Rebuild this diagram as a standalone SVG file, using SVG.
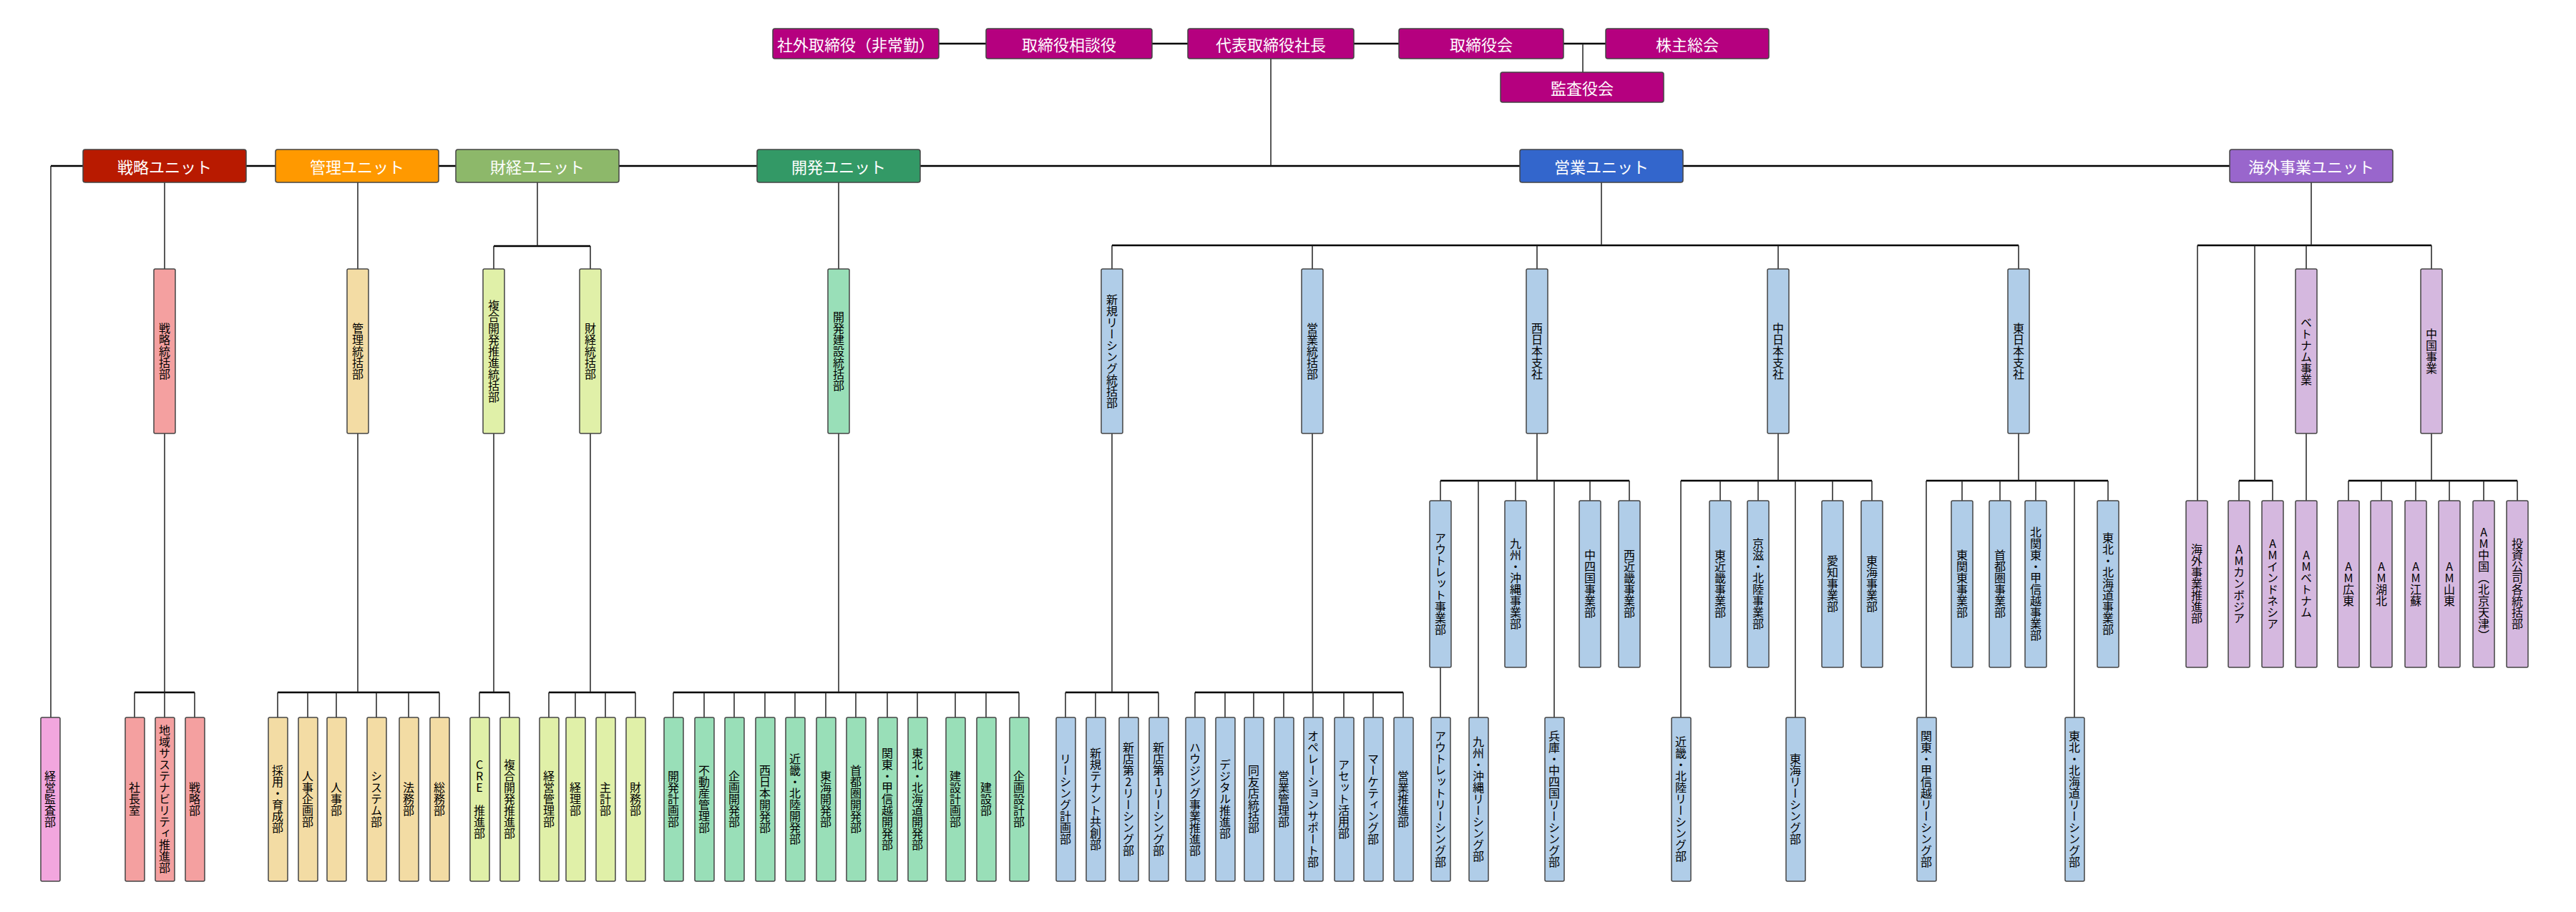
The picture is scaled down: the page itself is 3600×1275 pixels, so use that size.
<svg xmlns="http://www.w3.org/2000/svg" width="3600" height="1275" viewBox="0 0 3600 1275">
<style>
text{font-family:"Noto Sans CJK JP","Noto Sans",sans-serif}
.b{stroke:#444;stroke-width:1.5}
.top{fill:#b5007f}.u1{fill:#b81a00}.u2{fill:#ff9900}.u3{fill:#8db86a}.u4{fill:#339966}.u5{fill:#3366cc}.u6{fill:#9966cc}
.cA{fill:#f4a0a0}.cM{fill:#f2a6de}.cB{fill:#f3dca4}.cC{fill:#e0f0a8}.cD{fill:#99dfb8}.cE{fill:#b0cde8}.cF{fill:#d5b8df}
.ht{fill:#fff;font-size:22px;text-anchor:middle;dominant-baseline:central}
.vt{fill:#000;font-size:16px;writing-mode:vertical-rl;text-orientation:upright;text-anchor:middle;dominant-baseline:central}
.h{fill:none;stroke:#000;stroke-width:2.5}
.v{fill:none;stroke:#222;stroke-width:1.5}
</style>
<g id="connectors">
<path class="h" d="M1312 61H2244M71 232H3116M690 344H825M1554 343H2821M3071 343H3398M3129 672H3176M188 968H272M388 968H614M670 968H712M767 968H888M941 968H1424M1489 968H1619M1670 968H1961M2013 672H2277M2349 672H2616M2692 672H2946M3282 672H3518"/>
<path class="v" d="M2212 61V101M1776 82V232M71 232V1003M230 255V376M500 255V376M751 255V344M690 344V376M825 344V376M1172 255V376M2238 255V343M1554 343V376M1834 343V376M2148 343V376M2485 343V376M2821 343V376M3230 255V343M3071 343V700M3151 343V672M3129 672V700M3176 672V700M3223 343V376M3398 343V376
M230 606V1003M188 968V1003M272 968V1003
M500 606V968M388 968V1003M430 968V1003M470 968V1003M526 968V1003M571 968V1003M614 968V1003
M690 606V968M670 968V1003M712 968V1003
M825 606V968M767 968V1003M804 968V1003M846 968V1003M888 968V1003
M1172 606V968M941 968V1003M984 968V1003M1026 968V1003M1069 968V1003M1111 968V1003M1154 968V1003M1196 968V1003M1240 968V1003M1282 968V1003M1335 968V1003M1378 968V1003M1424 968V1003
M1554 606V968M1489 968V1003M1531 968V1003M1577 968V1003M1619 968V1003
M1834 606V968M1670 968V1003M1712 968V1003M1752 968V1003M1794 968V1003M1835 968V1003M1878 968V1003M1919 968V1003M1961 968V1003
M2148 606V672M2013 672V700M2118 672V700M2222 672V700M2277 672V700M2066 672V1003M2172 672V1003M2013 933V1003
M2485 606V672M2349 672V1003M2404 672V700M2457 672V700M2509 672V1003M2561 672V700M2616 672V700
M2821 606V672M2692 672V1003M2742 672V700M2795 672V700M2845 672V700M2899 672V1003M2946 672V700
M3223 606V700M3398 606V672M3282 672V700M3328 672V700M3376 672V700M3423 672V700M3471 672V700M3518 672V700"/>
</g>
<g id="n_outside"><rect class="top b" x="1080" y="40" width="232" height="42" rx="3"/><text class="ht" x="1196" y="61" font-size="20">社外取締役（非常勤）</text></g>
<g id="n_advisor"><rect class="top b" x="1378" y="40" width="232" height="42" rx="3"/><text class="ht" x="1494" y="61">取締役相談役</text></g>
<g id="n_ceo"><rect class="top b" x="1660" y="40" width="232" height="42" rx="3"/><text class="ht" x="1776" y="61">代表取締役社長</text></g>
<g id="n_board"><rect class="top b" x="1955" y="40" width="230" height="42" rx="3"/><text class="ht" x="2070" y="61">取締役会</text></g>
<g id="n_share"><rect class="top b" x="2244" y="40" width="228" height="42" rx="3"/><text class="ht" x="2358" y="61">株主総会</text></g>
<g id="n_audit"><rect class="top b" x="2097" y="101" width="228" height="42" rx="3"/><text class="ht" x="2211" y="122">監査役会</text></g>
<g id="u_strategy"><rect class="u1 b" x="116" y="209" width="228" height="46" rx="3"/><text class="ht" x="230" y="232">戦略ユニット</text></g>
<g id="u_admin"><rect class="u2 b" x="385" y="209" width="228" height="46" rx="3"/><text class="ht" x="499" y="232">管理ユニット</text></g>
<g id="u_finance"><rect class="u3 b" x="637" y="209" width="228" height="46" rx="3"/><text class="ht" x="751" y="232">財経ユニット</text></g>
<g id="u_dev"><rect class="u4 b" x="1058" y="209" width="228" height="46" rx="3"/><text class="ht" x="1172" y="232">開発ユニット</text></g>
<g id="u_sales"><rect class="u5 b" x="2124" y="209" width="228" height="46" rx="3"/><text class="ht" x="2238" y="232">営業ユニット</text></g>
<g id="u_overseas"><rect class="u6 b" x="3116" y="209" width="228" height="46" rx="3"/><text class="ht" x="3230" y="232">海外事業ユニット</text></g>
<!-- level 2 -->
<g id="l2_1"><rect class="cA b" x="215" y="376" width="30" height="230" rx="2"/><text class="vt" x="230" y="491">戦略統括部</text></g>
<g id="l2_2"><rect class="cB b" x="485" y="376" width="30" height="230" rx="2"/><text class="vt" x="500" y="491">管理統括部</text></g>
<g id="l2_3"><rect class="cC b" x="675" y="376" width="30" height="230" rx="2"/><text class="vt" x="690" y="491">複合開発推進統括部</text></g>
<g id="l2_4"><rect class="cC b" x="810" y="376" width="30" height="230" rx="2"/><text class="vt" x="825" y="491">財経統括部</text></g>
<g id="l2_5"><rect class="cD b" x="1157" y="376" width="30" height="230" rx="2"/><text class="vt" x="1172" y="491">開発建設統括部</text></g>
<g id="l2_6"><rect class="cE b" x="1539" y="376" width="30" height="230" rx="2"/><text class="vt" x="1554" y="491">新規リーシング統括部</text></g>
<g id="l2_7"><rect class="cE b" x="1819" y="376" width="30" height="230" rx="2"/><text class="vt" x="1834" y="491">営業統括部</text></g>
<g id="l2_8"><rect class="cE b" x="2133" y="376" width="30" height="230" rx="2"/><text class="vt" x="2148" y="491">西日本支社</text></g>
<g id="l2_9"><rect class="cE b" x="2470" y="376" width="30" height="230" rx="2"/><text class="vt" x="2485" y="491">中日本支社</text></g>
<g id="l2_10"><rect class="cE b" x="2806" y="376" width="30" height="230" rx="2"/><text class="vt" x="2821" y="491">東日本支社</text></g>
<g id="l2_11"><rect class="cF b" x="3208" y="376" width="30" height="230" rx="2"/><text class="vt" x="3223" y="491">ベトナム事業</text></g>
<g id="l2_12"><rect class="cF b" x="3383" y="376" width="30" height="230" rx="2"/><text class="vt" x="3398" y="491">中国事業</text></g>
<!-- middle row -->
<g id="m1"><rect class="cE b" x="1998" y="700" width="30" height="233" rx="2"/><text class="vt" x="2013" y="816">アウトレット事業部</text></g>
<g id="m2"><rect class="cE b" x="2103" y="700" width="30" height="233" rx="2"/><text class="vt" x="2118" y="816">九州・沖縄事業部</text></g>
<g id="m3"><rect class="cE b" x="2207" y="700" width="30" height="233" rx="2"/><text class="vt" x="2222" y="816">中四国事業部</text></g>
<g id="m4"><rect class="cE b" x="2262" y="700" width="30" height="233" rx="2"/><text class="vt" x="2277" y="816">西近畿事業部</text></g>
<g id="m5"><rect class="cE b" x="2389" y="700" width="30" height="233" rx="2"/><text class="vt" x="2404" y="816">東近畿事業部</text></g>
<g id="m6"><rect class="cE b" x="2442" y="700" width="30" height="233" rx="2"/><text class="vt" x="2457" y="816">京滋・北陸事業部</text></g>
<g id="m7"><rect class="cE b" x="2546" y="700" width="30" height="233" rx="2"/><text class="vt" x="2561" y="816">愛知事業部</text></g>
<g id="m8"><rect class="cE b" x="2601" y="700" width="30" height="233" rx="2"/><text class="vt" x="2616" y="816">東海事業部</text></g>
<g id="m9"><rect class="cE b" x="2727" y="700" width="30" height="233" rx="2"/><text class="vt" x="2742" y="816">東関東事業部</text></g>
<g id="m10"><rect class="cE b" x="2780" y="700" width="30" height="233" rx="2"/><text class="vt" x="2795" y="816">首都圏事業部</text></g>
<g id="m11"><rect class="cE b" x="2830" y="700" width="30" height="233" rx="2"/><text class="vt" x="2845" y="816">北関東・甲信越事業部</text></g>
<g id="m12"><rect class="cE b" x="2931" y="700" width="30" height="233" rx="2"/><text class="vt" x="2946" y="816">東北・北海道事業部</text></g>
<g id="m13"><rect class="cF b" x="3055" y="700" width="30" height="233" rx="2"/><text class="vt" x="3070" y="816">海外事業推進部</text></g>
<g id="m14"><rect class="cF b" x="3114" y="700" width="30" height="233" rx="2"/><text class="vt" x="3129" y="816">AMカンボジア</text></g>
<g id="m15"><rect class="cF b" x="3161" y="700" width="30" height="233" rx="2"/><text class="vt" x="3176" y="816">AMインドネシア</text></g>
<g id="m16"><rect class="cF b" x="3208" y="700" width="30" height="233" rx="2"/><text class="vt" x="3223" y="816">AMベトナム</text></g>
<g id="m17"><rect class="cF b" x="3267" y="700" width="30" height="233" rx="2"/><text class="vt" x="3282" y="816">AM広東</text></g>
<g id="m18"><rect class="cF b" x="3313" y="700" width="30" height="233" rx="2"/><text class="vt" x="3328" y="816">AM湖北</text></g>
<g id="m19"><rect class="cF b" x="3361" y="700" width="30" height="233" rx="2"/><text class="vt" x="3376" y="816">AM江蘇</text></g>
<g id="m20"><rect class="cF b" x="3408" y="700" width="30" height="233" rx="2"/><text class="vt" x="3423" y="816">AM山東</text></g>
<g id="m21"><rect class="cF b" x="3456" y="700" width="30" height="233" rx="2"/><text class="vt" x="3471" y="816">AM中国（北京天津）</text></g>
<g id="m22"><rect class="cF b" x="3503" y="700" width="30" height="233" rx="2"/><text class="vt" x="3518" y="816">投資公司各統括部</text></g>
<!-- bottom row -->
<g id="b1"><rect class="cM b" x="57" y="1003" width="27" height="229" rx="2"/><text class="vt" x="70" y="1117">経営監査部</text></g>
<g id="b2"><rect class="cA b" x="175" y="1003" width="27" height="229" rx="2"/><text class="vt" x="188" y="1117">社長室</text></g>
<g id="b3"><rect class="cA b" x="217" y="1003" width="27" height="229" rx="2"/><text class="vt" x="230" y="1117">地域サステナビリティ推進部</text></g>
<g id="b4"><rect class="cA b" x="259" y="1003" width="27" height="229" rx="2"/><text class="vt" x="272" y="1117">戦略部</text></g>
<g id="b5"><rect class="cB b" x="375" y="1003" width="27" height="229" rx="2"/><text class="vt" x="388" y="1117">採用・育成部</text></g>
<g id="b6"><rect class="cB b" x="417" y="1003" width="27" height="229" rx="2"/><text class="vt" x="430" y="1117">人事企画部</text></g>
<g id="b7"><rect class="cB b" x="457" y="1003" width="27" height="229" rx="2"/><text class="vt" x="470" y="1117">人事部</text></g>
<g id="b8"><rect class="cB b" x="513" y="1003" width="27" height="229" rx="2"/><text class="vt" x="526" y="1117">システム部</text></g>
<g id="b9"><rect class="cB b" x="558" y="1003" width="27" height="229" rx="2"/><text class="vt" x="571" y="1117">法務部</text></g>
<g id="b10"><rect class="cB b" x="601" y="1003" width="27" height="229" rx="2"/><text class="vt" x="614" y="1117">総務部</text></g>
<g id="b11"><rect class="cC b" x="657" y="1003" width="27" height="229" rx="2"/><text class="vt" x="670" y="1117">CRE 推進部</text></g>
<g id="b12"><rect class="cC b" x="699" y="1003" width="27" height="229" rx="2"/><text class="vt" x="712" y="1117">複合開発推進部</text></g>
<g id="b13"><rect class="cC b" x="754" y="1003" width="27" height="229" rx="2"/><text class="vt" x="767" y="1117">経営管理部</text></g>
<g id="b14"><rect class="cC b" x="791" y="1003" width="27" height="229" rx="2"/><text class="vt" x="804" y="1117">経理部</text></g>
<g id="b15"><rect class="cC b" x="833" y="1003" width="27" height="229" rx="2"/><text class="vt" x="846" y="1117">主計部</text></g>
<g id="b16"><rect class="cC b" x="875" y="1003" width="27" height="229" rx="2"/><text class="vt" x="888" y="1117">財務部</text></g>
<g id="b17"><rect class="cD b" x="928" y="1003" width="27" height="229" rx="2"/><text class="vt" x="941" y="1117">開発計画部</text></g>
<g id="b18"><rect class="cD b" x="971" y="1003" width="27" height="229" rx="2"/><text class="vt" x="984" y="1117">不動産管理部</text></g>
<g id="b19"><rect class="cD b" x="1013" y="1003" width="27" height="229" rx="2"/><text class="vt" x="1026" y="1117">企画開発部</text></g>
<g id="b20"><rect class="cD b" x="1056" y="1003" width="27" height="229" rx="2"/><text class="vt" x="1069" y="1117">西日本開発部</text></g>
<g id="b21"><rect class="cD b" x="1098" y="1003" width="27" height="229" rx="2"/><text class="vt" x="1111" y="1117">近畿・北陸開発部</text></g>
<g id="b22"><rect class="cD b" x="1141" y="1003" width="27" height="229" rx="2"/><text class="vt" x="1154" y="1117">東海開発部</text></g>
<g id="b23"><rect class="cD b" x="1183" y="1003" width="27" height="229" rx="2"/><text class="vt" x="1196" y="1117">首都圏開発部</text></g>
<g id="b24"><rect class="cD b" x="1227" y="1003" width="27" height="229" rx="2"/><text class="vt" x="1240" y="1117">関東・甲信越開発部</text></g>
<g id="b25"><rect class="cD b" x="1269" y="1003" width="27" height="229" rx="2"/><text class="vt" x="1282" y="1117">東北・北海道開発部</text></g>
<g id="b26"><rect class="cD b" x="1322" y="1003" width="27" height="229" rx="2"/><text class="vt" x="1335" y="1117">建設計画部</text></g>
<g id="b27"><rect class="cD b" x="1365" y="1003" width="27" height="229" rx="2"/><text class="vt" x="1378" y="1117">建設部</text></g>
<g id="b28"><rect class="cD b" x="1411" y="1003" width="27" height="229" rx="2"/><text class="vt" x="1424" y="1117">企画設計部</text></g>
<g id="b29"><rect class="cE b" x="1476" y="1003" width="27" height="229" rx="2"/><text class="vt" x="1489" y="1117">リーシング計画部</text></g>
<g id="b30"><rect class="cE b" x="1518" y="1003" width="27" height="229" rx="2"/><text class="vt" x="1531" y="1117">新規テナント共創部</text></g>
<g id="b31"><rect class="cE b" x="1564" y="1003" width="27" height="229" rx="2"/><text class="vt" x="1577" y="1117">新店第2リーシング部</text></g>
<g id="b32"><rect class="cE b" x="1606" y="1003" width="27" height="229" rx="2"/><text class="vt" x="1619" y="1117">新店第1リーシング部</text></g>
<g id="b33"><rect class="cE b" x="1657" y="1003" width="27" height="229" rx="2"/><text class="vt" x="1670" y="1117">ハウジング事業推進部</text></g>
<g id="b34"><rect class="cE b" x="1699" y="1003" width="27" height="229" rx="2"/><text class="vt" x="1712" y="1117">デジタル推進部</text></g>
<g id="b35"><rect class="cE b" x="1739" y="1003" width="27" height="229" rx="2"/><text class="vt" x="1752" y="1117">同友店統括部</text></g>
<g id="b36"><rect class="cE b" x="1781" y="1003" width="27" height="229" rx="2"/><text class="vt" x="1794" y="1117">営業管理部</text></g>
<g id="b37"><rect class="cE b" x="1822" y="1003" width="27" height="229" rx="2"/><text class="vt" x="1835" y="1117">オペレーションサポート部</text></g>
<g id="b38"><rect class="cE b" x="1865" y="1003" width="27" height="229" rx="2"/><text class="vt" x="1878" y="1117">アセット活用部</text></g>
<g id="b39"><rect class="cE b" x="1906" y="1003" width="27" height="229" rx="2"/><text class="vt" x="1919" y="1117">マーケティング部</text></g>
<g id="b40"><rect class="cE b" x="1948" y="1003" width="27" height="229" rx="2"/><text class="vt" x="1961" y="1117">営業推進部</text></g>
<g id="b41"><rect class="cE b" x="2000" y="1003" width="27" height="229" rx="2"/><text class="vt" x="2013" y="1117">アウトレットリーシング部</text></g>
<g id="b42"><rect class="cE b" x="2053" y="1003" width="27" height="229" rx="2"/><text class="vt" x="2066" y="1117">九州・沖縄リーシング部</text></g>
<g id="b43"><rect class="cE b" x="2159" y="1003" width="27" height="229" rx="2"/><text class="vt" x="2172" y="1117">兵庫・中四国リーシング部</text></g>
<g id="b44"><rect class="cE b" x="2336" y="1003" width="27" height="229" rx="2"/><text class="vt" x="2349" y="1117">近畿・北陸リーシング部</text></g>
<g id="b45"><rect class="cE b" x="2496" y="1003" width="27" height="229" rx="2"/><text class="vt" x="2509" y="1117">東海リーシング部</text></g>
<g id="b46"><rect class="cE b" x="2679" y="1003" width="27" height="229" rx="2"/><text class="vt" x="2692" y="1117">関東・甲信越リーシング部</text></g>
<g id="b47"><rect class="cE b" x="2886" y="1003" width="27" height="229" rx="2"/><text class="vt" x="2899" y="1117">東北・北海道リーシング部</text></g>
</svg>
